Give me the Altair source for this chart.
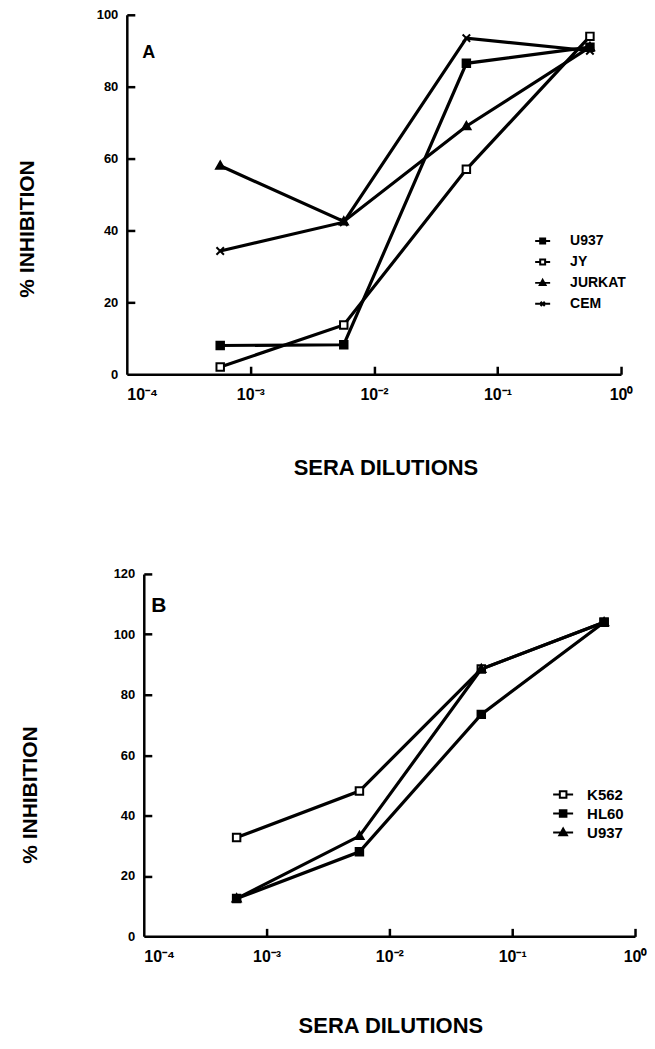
import altair as alt
import pandas as pd

# ---------------- data ----------------
DILUTIONS = [0.00057, 0.0057, 0.056, 0.56]

A_SERIES = ["U937", "JY", "JURKAT", "CEM"]
A_U937 = [8.0, 8.2, 86.5, 91.0]
A_JY = [2.0, 13.7, 57.0, 94.0]
A_JURKAT = [58.0, 42.5, 69.0, 91.0]
A_CEM = [34.3, 42.3, 93.5, 90.0]
A_DRAW_ORDER = ["U937", "JURKAT", "CEM", "JY"]

B_SERIES = ["K562", "HL60", "U937"]
B_K562 = [32.7, 48.1, 88.5, 104.0]
B_HL60 = [12.5, 28.0, 73.5, 104.0]
B_U937 = [12.5, 33.2, 88.5, 104.0]
B_DRAW_ORDER = ["K562", "U937", "HL60"]

X_TICKS = [1e-4, 1e-3, 1e-2, 1e-1, 1.0]
X_TICK_LABELS = ["10⁻⁴", "10⁻³", "10⁻²", "10⁻¹", "10⁰"]
A_Y_TICKS = [0, 20, 40, 60, 80, 100]
B_Y_TICKS = [0, 20, 40, 60, 80, 100, 120]
PANEL_LABELS = ["A", "B"]
X_TITLE = "SERA DILUTIONS"
Y_TITLE = "% INHIBITION"

# ---------------- styling ----------------
FONT = "Liberation Sans"
SQUARE = "M-1,-1H1V1H-1Z"
TRIANGLE = "M0,-1.15L1.1,0.8H-1.1Z"
XMARK = "M-1,-1L1,1M1,-1L-1,1"
L_SQUARE = "M-1,0H-0.33M0.33,0H1M-0.33,-0.33H0.33V0.33H-0.33Z"
L_TRI = "M-1,0H1M0,-0.4L0.38,0.27H-0.38Z"
L_X = "M-1,0H1M-0.28,-0.28L0.28,0.28M0.28,-0.28L-0.28,0.28"

SHAPE_OF = {"filled": SQUARE, "open": SQUARE, "tri": TRIANGLE, "x": XMARK}
LSHAPE_OF = {"filled": L_SQUARE, "open": L_SQUARE, "tri": L_TRI, "x": L_X}
FILL_OF = {"filled": "black", "open": "white", "tri": "black", "x": "black"}

A_KIND = ["filled", "open", "tri", "x"]
B_KIND = ["open", "filled", "tri"]

label_expr = "[" + ",".join("'%s'" % s for s in X_TICK_LABELS) + "][round(log(datum.value)/LN10)+4]"


def long_df(series, values, order):
    rows = []
    for name in order:
        vals = values[series.index(name)]
        for x, y in zip(DILUTIONS, vals):
            rows.append({"series": name, "x": x, "y": y})
    return pd.DataFrame(rows)


def panel(series, values, order, kinds, y_ticks, ydom, width, height, xoff,
          ytitle_x, ytitle_y, xtitle_x, xtitle_y, panel_label, plx, ply, plsize,
          legx, legy, legsize, legoff, legfont, legrow):
    df = long_df(series, values, order)
    xscale = alt.Scale(type="log", domain=[1e-4, 1.0], range=[xoff, width])
    yscale = alt.Scale(domain=ydom)
    xaxis = alt.Axis(values=X_TICKS, labelExpr=label_expr, grid=False, ticks=False, tickSize=0,
                     labelFont=FONT, labelFontSize=16, labelFontWeight="bold", labelColor="black",
                     labelPadding=12, labelFlush=False,
                     labelAlign={"condition": {"test": "datum.value < 0.0002", "value": "left"},
                                 "value": "center"},
                     domainColor="black", domainWidth=2.5,
                     title=X_TITLE, titleFont=FONT, titleFontSize=22, titleFontWeight="bold",
                     titleColor="black", titleX=xtitle_x, titleY=xtitle_y, titleBaseline="middle",
                     titleAlign="center")
    yaxis = alt.Axis(values=y_ticks, grid=False, ticks=False, tickSize=0, offset=-xoff,
                     labelFont=FONT, labelFontSize=13, labelFontWeight="bold", labelColor="black",
                     labelPadding=9, domainColor="black", domainWidth=2.5,
                     title=Y_TITLE, titleFont=FONT, titleFontSize=21, titleFontWeight="bold",
                     titleColor="black", titleAngle=270, titleX=ytitle_x, titleY=ytitle_y,
                     titleAlign="center", titleBaseline="middle")
    # inward tick marks: a top axis moved down onto the x axis, a right axis moved onto the y axis
    xtick_axis = alt.Axis(orient="top", offset=-height, values=X_TICKS[1:], labels=False,
                          domain=False, ticks=True, tickSize=8, tickWidth=2.5, tickColor="black",
                          tickOpacity=1, grid=False, title=None)
    ytick_axis = alt.Axis(orient="right", offset=-(width - xoff), values=y_ticks[1:], labels=False,
                          domain=False, ticks=True, tickSize=8, tickWidth=2.5, tickColor="black",
                          tickOpacity=1, grid=False, title=None)

    base = alt.Chart(df)
    lines = base.mark_line(color="black", strokeWidth=3.2).encode(
        x=alt.X("x:Q", scale=xscale, axis=xaxis),
        y=alt.Y("y:Q", scale=yscale, axis=yaxis),
        detail="series:N", order="x:Q",
    )
    pts = base.mark_point(filled=True, opacity=1, stroke="black", strokeWidth=2, size=56).encode(
        x=alt.X("x:Q", scale=xscale, axis=xtick_axis),
        y=alt.Y("y:Q", scale=yscale, axis=ytick_axis),
        shape=alt.Shape("series:N", scale=alt.Scale(domain=series, range=[SHAPE_OF[k] for k in kinds]),
                        legend=None),
        fill=alt.Fill("series:N", scale=alt.Scale(domain=series, range=[FILL_OF[k] for k in kinds]),
                      legend=None),
    )
    leg_props = dict(orient="none", legendX=legx, legendY=legy, title=None, padding=0,
                     labelFont=FONT, labelFontSize=legfont, labelFontWeight="bold", labelColor="black",
                     symbolSize=legsize, symbolStrokeWidth=2, symbolStrokeColor="black",
                     symbolOpacity=1, labelOffset=legoff, rowPadding=legrow)
    leg = base.transform_filter("false").transform_calculate(name="datum.series").mark_point(
        filled=True, opacity=1, strokeWidth=2).encode(
        shape=alt.Shape("name:N", scale=alt.Scale(domain=series, range=[LSHAPE_OF[k] for k in kinds]),
                        legend=alt.Legend(**leg_props)),
        fill=alt.Fill("name:N", scale=alt.Scale(domain=series, range=[FILL_OF[k] for k in kinds]),
                      legend=alt.Legend(**leg_props)),
        stroke=alt.Stroke("name:N", scale=alt.Scale(domain=series, range=["black"] * len(series)),
                          legend=alt.Legend(**leg_props)),
    )
    lab = alt.Chart(pd.DataFrame({"t": [panel_label]})).mark_text(
        font=FONT, fontSize=plsize, fontWeight="bold", color="black", align="center", baseline="middle"
    ).encode(text="t:N", x=alt.value(plx), y=alt.value(ply))

    return alt.layer(lines, pts, leg, lab).resolve_scale(
        shape="independent", fill="independent", stroke="independent"
    ).resolve_axis(x="independent", y="independent").properties(width=width, height=height)


chart_a = panel(A_SERIES, [A_U937, A_JY, A_JURKAT, A_CEM], A_DRAW_ORDER, A_KIND, A_Y_TICKS, [0, 100],
                495, 360, 0, -99, 214, 259, 93, PANEL_LABELS[0], 22, 38, 18,
                408, 218, 225, 19, 14, 5)
chart_b = panel(B_SERIES, [B_K562, B_HL60, B_U937], B_DRAW_ORDER, B_KIND, B_Y_TICKS, [0, 120],
                509, 363, 17, -113, 221, 264, 89, PANEL_LABELS[1], 32, 32, 21,
                426, 210, 400, 13, 15, 0)

chart = alt.vconcat(chart_a, chart_b, spacing=200, bounds="flush").resolve_scale(
    shape="independent", fill="independent", stroke="independent"
).properties(padding={"left": 9, "top": 0, "right": 0, "bottom": 0}).configure_view(stroke=None)

chart.save("out.html", embed_options={"renderer": "svg", "actions": False})
